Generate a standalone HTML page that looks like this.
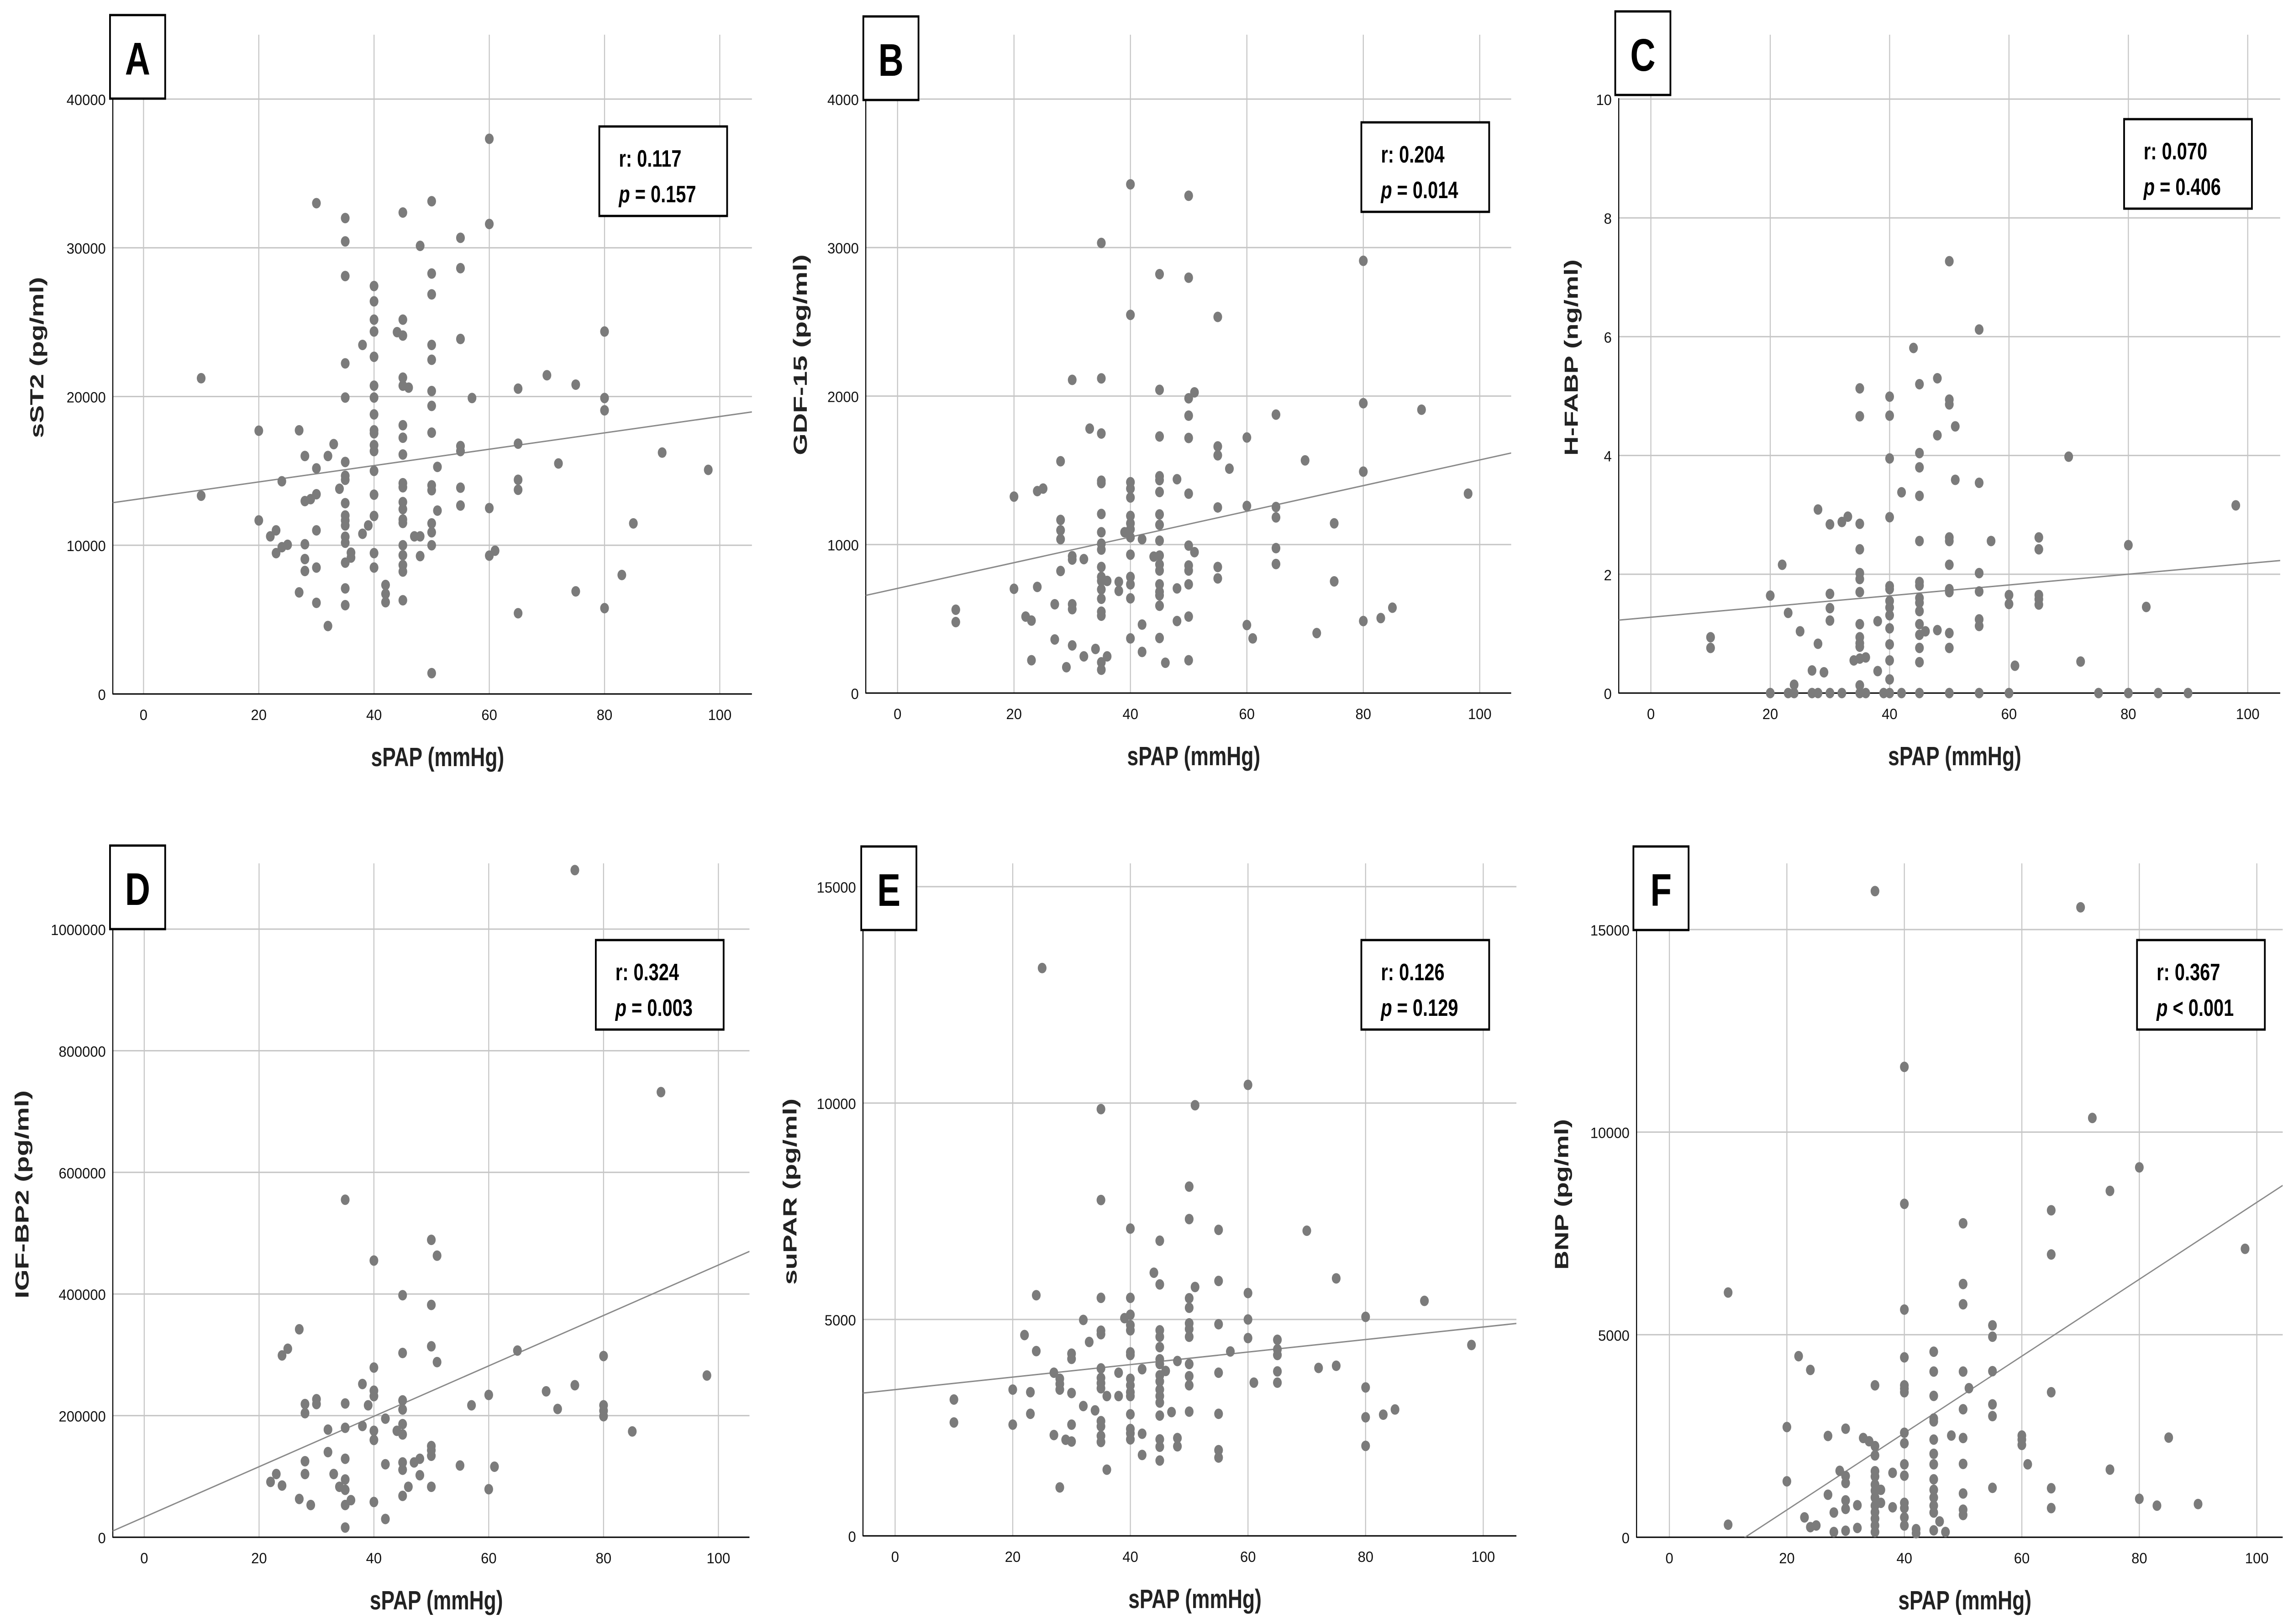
<!DOCTYPE html>
<html><head><meta charset="utf-8"><style>
html,body{margin:0;padding:0;background:#fff;overflow:hidden;width:100%;height:100%;}
svg{display:block;font-family:"Liberation Sans",sans-serif;width:100vw;height:100vh;}
</style></head><body>
<svg id="fig" viewBox="0 0 6537 3557" preserveAspectRatio="none" xmlns="http://www.w3.org/2000/svg">
<rect x="0" y="0" width="6537" height="3557" fill="#fff"/>
</svg>
<script>
// ---- data ----
const xTicks = [0, 20, 40, 60, 80, 100];
const panelLetters = ["A","B","C","D","E","F"];
const yTitles = ["sST2 (pg/ml)","GDF-15 (pg/ml)","H-FABP (ng/ml)","IGF-BP2 (pg/ml)","suPAR (pg/ml)","BNP (pg/ml)"];
const rValues = ["0.117","0.204","0.070","0.324","0.126","0.367"];
const pValues = ["= 0.157","= 0.014","= 0.406","= 0.003","= 0.129","< 0.001"];
const yTicksA = [0,10000,20000,30000,40000];
const yTicksB = [0,1000,2000,3000,4000];
const yTicksC = [0,2,4,6,8,10];
const yTicksD = [0,200000,400000,600000,800000,1000000];
const yTicksE = [0,5000,10000,15000];
const yTicksF = [0,5000,10000,15000];
const fitIntercepts = [13157, 705, 1.277, 33100, 3379, -1224];
const fitSlopes = [55.0, 8.65, 0.00905, 4145, 14.47, 94.9];

const ptsAx = [10,10,20,20,22,23,23,24,24,25,27,27,28,28,28,28,28,29,30,30,30,30,30,30,32,32,33,34,35,35,35,35,35,35,35,35,35,35,35,35,35,35,35,35,35,36,36,38,38,39,40,40,40,40,40,40,40,40,40,40,40,40,40,40,40,40,40,42,42,42,44,45,45,45,45,45,45,45,45,45,45,45,45,45,45,45,45,45,45,45,46,47,48,48,48,50,50,50,50,50,50,50,50,50,50,50,50,50,50,51,51,55,55,55,55,55,55,55,57,60,60,60,60,61,65,65,65,65,65,70,72,75,75,80,80,80,80,83,85,90,98];
const ptsAy = [21230,13330,17700,11670,10600,11000,9470,14300,9870,10030,17730,6830,16000,12970,10070,9070,8270,13100,33000,15170,13430,11000,8500,6130,16000,4570,16800,13800,32000,30430,28100,22230,19930,15600,14670,14400,12830,12000,11670,11330,10570,10170,8830,7100,5970,9500,9170,23470,10770,11330,27430,26400,25170,24370,22670,20730,19930,18800,17730,17530,16730,16330,15000,13400,11970,9470,8500,7330,6730,6170,24330,32370,25170,24100,21270,20730,18070,17230,16100,14170,13900,12900,12430,11730,11500,10000,9330,8670,8230,6300,20600,10600,30130,10600,9270,33130,28270,26870,23470,22470,20370,19370,17570,14030,13700,11470,10870,10000,1400,15270,12330,30670,28630,23870,16670,16330,13870,12670,19900,37330,31600,12500,9300,9630,20530,16830,14400,13730,5430,21430,15500,20800,6900,24370,19900,19070,5770,8000,11470,16230,15070];

const ptsBx = [10,10,20,20,22,23,23,24,25,24,27,27,28,28,28,28,28,29,30,30,30,30,30,30,32,32,33,34,35,35,35,35,35,35,35,35,35,35,35,35,35,35,35,35,35,35,36,36,38,38,39,40,40,40,40,40,40,40,40,40,40,40,40,40,40,42,42,42,44,45,45,45,45,45,45,45,45,45,45,45,45,45,45,45,45,45,46,48,48,48,50,50,50,50,50,50,50,50,50,50,50,50,51,51,55,55,55,55,55,55,57,60,60,60,61,65,65,65,65,65,70,72,75,75,80,80,80,80,83,85,90,98];
const ptsBy = [561,478,1323,702,515,488,221,1360,1377,715,598,361,1561,1166,1096,1036,822,174,2109,922,899,598,565,321,902,247,1781,297,3031,2119,1748,1430,1414,1206,1083,1006,966,849,782,755,698,635,548,521,207,157,755,247,749,688,1083,3426,2547,1420,1377,1317,1193,1143,1103,1049,932,782,732,638,368,1036,461,277,919,2821,2042,1728,1460,1434,1354,1203,1133,1026,926,866,825,732,682,658,588,371,204,1440,705,485,3349,2797,1985,1868,1718,1343,993,859,825,732,515,221,2025,949,2533,1661,1601,1250,849,772,1511,1721,1260,458,368,1875,1253,1183,976,869,1567,404,1143,752,2911,1952,1491,485,505,575,1908,1343];

const ptsCx = [10,10,20,20,22,23,23,24,24,25,27,27,28,28,28,29,30,30,30,30,30,32,32,33,34,35,35,35,35,35,35,35,35,35,35,35,35,35,35,36,36,38,38,39,40,40,40,40,40,40,40,40,40,40,40,40,40,40,42,42,44,45,45,45,45,45,45,45,45,45,45,45,45,45,45,45,46,48,48,48,50,50,50,50,50,50,50,50,50,50,50,51,51,55,55,55,55,55,55,55,57,60,60,60,61,65,65,65,65,65,70,72,75,80,80,83,85,90,98];
const ptsCy = [0.94,0.76,1.64,0,2.16,1.35,0,0.14,0,1.04,0.38,0,3.09,0.83,0,0.35,2.84,1.67,1.43,1.22,0,2.88,0,2.97,0.55,5.13,4.66,2.85,2.42,2.02,1.92,1.70,1.16,0.94,0.84,0.78,0.58,0.13,0,0.6,0,1.21,0.37,0,4.99,4.67,3.95,2.96,1.80,1.75,1.55,1.44,1.31,1.09,0.82,0.55,0.23,0,3.38,0,5.81,5.20,4.04,3.80,3.32,2.56,1.87,1.81,1.60,1.52,1.38,1.16,0.98,0.76,0.52,0,1.04,5.30,4.34,1.06,7.27,4.94,4.86,2.62,2.56,2.16,1.75,1.70,1.01,0.76,0,4.49,3.59,6.12,3.54,2.02,1.71,1.24,1.13,0,2.56,1.65,1.50,0,0.46,2.62,2.42,1.65,1.58,1.49,3.98,0.53,0,2.49,0,1.45,0,0,3.16];

const ptsDx = [22,23,24,24,25,27,27,28,28,28,28,29,30,30,32,32,33,34,35,35,35,35,35,35,35,35,36,38,38,39,40,40,40,40,40,40,40,42,42,42,44,45,45,45,45,45,45,45,45,45,46,47,48,48,50,50,50,50,50,50,50,51,51,55,57,60,60,61,65,70,72,75,75,80,80,80,80,85,90,98];
const ptsDy = [91000,104000,299000,85000,310000,342000,63000,219000,204000,125000,104000,53000,227000,219000,177000,140000,104000,83000,555000,220000,180000,129000,95000,78000,53000,16000,61000,252000,183000,217000,455000,279000,241000,232000,175000,160000,58000,195000,120000,30000,175000,398000,303000,225000,210000,186000,169000,123000,111000,68000,83000,123000,129000,102000,489000,382000,314000,150000,143000,134000,83000,463000,288000,118000,217000,234000,79000,116000,307000,240000,211000,1097000,250000,298000,217000,208000,199000,174000,732000,266000];

const ptsEx = [10,10,20,20,22,23,23,24,24,25,27,27,28,28,28,28,29,30,30,30,30,30,32,32,33,34,35,35,35,35,35,35,35,35,35,35,35,35,35,36,36,38,38,39,40,40,40,40,40,40,40,40,40,40,40,40,40,40,40,42,42,42,44,45,45,45,45,45,45,45,45,45,45,45,45,45,45,45,45,46,47,48,48,48,50,50,50,50,50,50,50,50,50,50,50,51,51,55,55,55,55,55,55,55,57,60,60,60,60,61,65,65,65,65,65,70,72,75,75,80,80,80,80,83,85,90,98];
const ptsEy = [3150,2620,3380,2570,4640,3320,2820,5560,4270,13120,3770,2330,3630,3510,3380,1120,2220,4210,4090,3300,2570,2180,4990,3000,4480,2900,9860,7760,5500,4740,4660,3870,3650,3530,3410,2650,2530,2310,2170,3230,1530,3770,3230,5030,7100,5500,5110,4870,4750,4240,4180,3630,3480,3320,3230,2810,2470,2370,2230,3850,2360,1870,6080,6820,5810,4750,4600,4360,4080,3970,3710,3570,3380,3230,3080,2780,2230,2060,1740,3810,2860,4040,2260,2070,8070,7320,5490,5270,4910,4780,4600,3970,3690,3480,2870,9950,5750,7070,5890,4890,3770,2820,1980,1810,4260,10420,5610,5000,4570,3540,4530,4310,4180,3800,3540,7050,3880,5950,3930,5060,3430,2740,2080,2800,2920,5430,4410];

const ptsFx = [10,10,20,20,22,23,24,24,25,27,27,28,28,29,30,30,30,30,30,30,32,32,33,34,35,35,35,35,35,35,35,35,35,35,35,35,35,35,36,36,38,38,40,40,40,40,40,40,40,40,40,40,40,40,40,40,40,42,42,45,45,45,45,45,45,45,45,45,45,45,45,45,45,46,47,48,50,50,50,50,50,50,50,50,50,50,51,55,55,55,55,55,55,60,60,60,61,65,65,65,65,65,70,72,75,75,80,80,83,85,90,98];
const ptsFy = [6040,310,2720,1380,4470,490,4130,250,290,2500,1050,610,130,1640,2680,1510,1340,910,700,160,790,230,2450,2370,15950,3750,2250,2020,1630,1500,1300,1150,980,780,620,460,290,130,1170,850,1590,740,11610,8230,5620,4440,3750,3670,3580,2580,2320,1800,1520,850,720,490,290,200,100,4580,4090,3490,2930,2860,2410,2060,1800,1430,1170,980,780,610,170,390,130,2510,7750,6250,5750,4090,3160,2450,1810,1080,680,550,3680,5230,4950,4100,3280,2990,1220,2510,2410,2280,1800,8070,6980,3580,1210,720,15550,10350,8550,1670,9130,950,780,2460,820,7120];

// ---- layout (pixel geometry only) ----
const layouts = [
 {L:323,R:2153,x0:411,x100:2061,top:76,base:1520,topV:40000,topPx:217,lb:[315,33],sb:[1716,277],yt:[106,783]},
 {L:2479,R:4327,x0:2570,x100:4237,top:76,base:1518,topV:4000,topPx:217,lb:[2472,36],sb:[3898,268],yt:[2292,777]},
 {L:4635,R:6529,x0:4727,x100:6436,top:76,base:1518,topV:10,topPx:217,lb:[4625,25],sb:[6082,261],yt:[4500,783]},
 {L:323,R:2146,x0:413,x100:2057,top:1891,base:3367,topV:1000000,topPx:2035,lb:[315,1852],sb:[1706,2059],yt:[64,2616]},
 {L:2471,R:4342,x0:2563,x100:4247,top:1891,base:3364,topV:15000,topPx:1942,lb:[2466,1854],sb:[3898,2059],yt:[2263,2610]},
 {L:4686,R:6536,x0:4780,x100:6462,top:1891,base:3367,topV:15000,topPx:2036,lb:[4677,1854],sb:[6119,2059],yt:[4472,2616]}
];
const yTickSets = [yTicksA,yTicksB,yTicksC,yTicksD,yTicksE,yTicksF];
const xsets = [ptsAx,ptsBx,ptsCx,ptsDx,ptsEx,ptsFx];
const ysets = [ptsAy,ptsBy,ptsCy,ptsDy,ptsEy,ptsFy];
const yTitleLen = [353,440,430,456,408,330];

const NS = "http://www.w3.org/2000/svg";
const svg = document.getElementById('fig');
function mk(tag, attrs, parent){
  const e = document.createElementNS(NS, tag);
  for (const k in attrs) e.setAttribute(k, attrs[k]);
  parent.appendChild(e); return e;
}

layouts.forEach((g, i) => {
  const xs = v => g.x0 + (g.x100 - g.x0) * v / 100;
  const ys = v => g.base - (g.base - g.topPx) * v / g.topV;
  const grp = mk('g', {}, svg);
  
  

  const clip = mk('clipPath', {id: 'clip' + i}, grp);
  mk('rect', {x: g.L, y: g.top, width: g.R - g.L, height: g.base - g.top}, clip);

  yTickSets[i].forEach(t => {
    if (t === 0) return;
    const gl = mk('line', {x1: g.L, x2: g.R, y1: ys(t), y2: ys(t), stroke: '#c6c6c6', 'stroke-width': 3}, grp);
    
    
  });
  xTicks.forEach(t => {
    const gl = mk('line', {x1: xs(t), x2: xs(t), y1: g.top, y2: g.base, stroke: '#c6c6c6', 'stroke-width': 3}, grp);
    
    
  });
  const ya = mk('line', {x1: g.L, x2: g.L, y1: g.topPx - 2, y2: g.base + 1, stroke: '#000', 'stroke-width': 3}, grp);
  
  
  const xa = mk('line', {x1: g.L, x2: g.R, y1: g.base, y2: g.base, stroke: '#000', 'stroke-width': 3}, grp);
  
  

  yTickSets[i].forEach(t => {
    const s = String(t);
    const tx = mk('text', {x: g.L - 20, y: ys(t) + 13, 'font-size': 32, 'text-anchor': 'end', fill: '#111', textLength: s.length * 22.5, lengthAdjust: 'spacingAndGlyphs'}, grp);
    tx.textContent = s;
    
    
  });
  xTicks.forEach(t => {
    const s = String(t);
    const tx = mk('text', {x: xs(t), y: g.base + 57, 'font-size': 32, 'text-anchor': 'middle', fill: '#111', textLength: s.length * 22.5, lengthAdjust: 'spacingAndGlyphs'}, grp);
    tx.textContent = s;
    
    
  });

  const xl = g.L, xr = g.R;
  const vl = (xl - g.x0) / (g.x100 - g.x0) * 100, vr = (xr - g.x0) / (g.x100 - g.x0) * 100;
  const fl = mk('line', {x1: xl, x2: xr, y1: ys(fitIntercepts[i] + fitSlopes[i] * vl), y2: ys(fitIntercepts[i] + fitSlopes[i] * vr), stroke: '#8a8a8a', 'stroke-width': 3, 'clip-path': 'url(#clip' + i + ')'}, grp);
  
  

  xsets[i].forEach((xv, j) => {
    const c = mk('ellipse', {cx: xs(xv), cy: ys(ysets[i][j]), rx: 12.5, ry: 11.5, fill: '#7b7b7b'}, grp);
    
    
  });

  const xt = mk('text', {x: (g.L + g.R) / 2 + 15, y: g.base + 158, 'font-size': 58, 'font-weight': 'bold', 'text-anchor': 'middle', fill: '#222'}, grp);
  xt.textContent = 'sPAP (mmHg)';
  
  
  const yt = mk('text', {x: 0, y: 0, 'font-size': 54, 'font-weight': 'bold', 'text-anchor': 'middle', fill: '#222', transform: 'translate(' + (g.yt[0] + 18) + ',' + g.yt[1] + ') rotate(-90)', textLength: yTitleLen[i], lengthAdjust: 'spacingAndGlyphs'}, grp);
  yt.textContent = yTitles[i];
  
  

  const lb = mk('rect', {x: g.lb[0], y: g.lb[1], width: 158, height: 183, fill: '#fff', stroke: '#000', 'stroke-width': 5}, grp);
  
  
  const lt = mk('text', {x: g.lb[0] + 79, y: g.lb[1] + 130, 'font-size': 100, 'font-weight': 'bold', 'text-anchor': 'middle', fill: '#000'}, grp);
  lt.textContent = panelLetters[i];
  
  

  const sb = mk('rect', {x: g.sb[0], y: g.sb[1], width: 366, height: 196, fill: '#fff', stroke: '#000', 'stroke-width': 5}, grp);
  
  
  const r = mk('text', {x: g.sb[0] + 56, y: g.sb[1] + 88, 'font-size': 52, 'font-weight': 'bold', fill: '#000'}, grp);
  r.textContent = 'r: ' + rValues[i];
  
  
  const p = mk('text', {x: g.sb[0] + 56, y: g.sb[1] + 166, 'font-size': 52, 'font-weight': 'bold', fill: '#000'}, grp);
  
  
  const pi = mk('tspan', {'font-style': 'italic'}, p);
  pi.textContent = 'p';
  const pr = mk('tspan', {}, p);
  pr.textContent = ' ' + pValues[i];
});
</script>
</body></html>
